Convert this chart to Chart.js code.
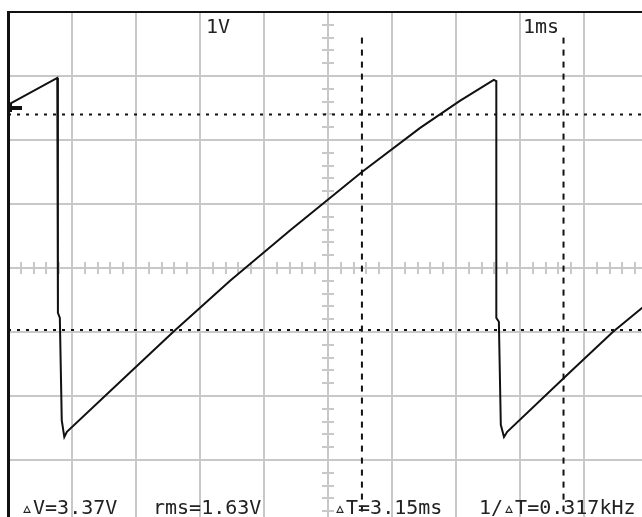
<!DOCTYPE html>
<html>
<head>
<meta charset="utf-8">
<title>Sawtooth scope capture</title>
<script src="https://cdn.jsdelivr.net/npm/chart.js@4/dist/chart.umd.min.js"></script>
<style>
  html, body { margin: 0; padding: 0; background: #fff; overflow: hidden; }
  #wrap { width: 660px; height: 540px; }
</style>
</head>
<body>
<div id="wrap"><canvas id="scope" width="660" height="540"></canvas></div>
<script>
// trace: time in ms (1 ms/div), volts (1 V/div)
const traceTime  = [0.02, 0.77, 0.78, 0.81, 0.84, 0.88, 0.92, 1.91, 2.58, 3.47, 4.41, 5.53, 6.44, 7.06, 7.59, 7.63, 7.63, 7.67, 7.70, 7.75, 7.80, 8.78, 9.45, 9.91];
const traceVolts = [2.56, 2.97, -0.70, -0.78, -2.38, -2.64, -2.56, -1.63, -1.00, -0.20, 0.59, 1.50, 2.19, 2.61, 2.94, 2.92, -0.78, -0.84, -2.45, -2.64, -2.56, -1.63, -1.00, -0.62];

const cursorVolts = [2.40, -0.97];
const cursorTimes = [5.53, 8.68];
const cursorTop = 3.6;
const triggerLevel = 2.5;

const scaleLabels = ['1V', '1ms'];
const readouts = ['\u25B5V=3.37V', 'rms=1.63V', '\u25B5T=3.15ms', '1/\u25B5T=0.317kHz'];

const timeRange = [0, 10];
const voltRange = [-4, 4];
const gridGray = '#c8c8c8';
const ink = '#111';

const trace = traceTime.map((t, i) => ({ x: t, y: traceVolts[i] }));

const datasets = [{
    data: trace,
    borderColor: ink,
    borderWidth: 2,
    pointRadius: 0,
    tension: 0
}];
cursorVolts.forEach(v => {
    datasets.push({
        data: [{ x: timeRange[0], y: v }, { x: timeRange[1], y: v }],
        borderColor: ink,
        borderWidth: 2,
        borderDash: [3, 6],
        pointRadius: 0
    });
});
cursorTimes.forEach(t => {
    datasets.push({
        data: [{ x: t, y: cursorTop }, { x: t, y: voltRange[0] }],
        borderColor: ink,
        borderWidth: 2,
        borderDash: [6, 6],
        pointRadius: 0
    });
});

// small tick marks along the two centre axes, 5 per division
const centreTicks = {
    id: 'centreTicks',
    beforeDatasetsDraw(chart) {
        const { ctx, scales: { x, y } } = chart;
        const cx = x.getPixelForValue((timeRange[0] + timeRange[1]) / 2);
        const cy = y.getPixelForValue(0);
        ctx.save();
        ctx.strokeStyle = gridGray;
        ctx.lineWidth = 2;
        ctx.beginPath();
        for (let k = 1; k < (voltRange[1] - voltRange[0]) * 5; k++) {
            const py = Math.round(y.getPixelForValue(voltRange[0] + k * 0.2));
            ctx.moveTo(cx - 6, py);
            ctx.lineTo(cx + 6, py);
        }
        for (let k = 1; k < (timeRange[1] - timeRange[0]) * 5; k++) {
            const px = Math.round(x.getPixelForValue(timeRange[0] + k * 0.2));
            ctx.moveTo(px, cy - 6);
            ctx.lineTo(px, cy + 6);
        }
        ctx.stroke();
        ctx.restore();
    }
};

const screenText = {
    id: 'screenText',
    afterDraw(chart) {
        const { ctx, chartArea: a, scales: { y } } = chart;
        ctx.save();
        // trigger marker at the left edge
        const ty = Math.round(y.getPixelForValue(triggerLevel));
        ctx.fillStyle = ink;
        ctx.fillRect(a.left, ty - 2, 14, 4);
        ctx.fillRect(a.left, ty - 5, 4, 9);

        ctx.font = '20px "DejaVu Sans Mono", monospace';
        ctx.fillStyle = '#222';
        ctx.textBaseline = 'alphabetic';
        ctx.fillText(scaleLabels[0], a.left + 198, a.top + 21);
        ctx.fillText(scaleLabels[1], a.left + 515, a.top + 21);
        const xs = [13, 145, 326, 471];
        readouts.forEach((s, i) => ctx.fillText(s, a.left + xs[i], a.top + 502));
        ctx.restore();
    }
};

new Chart(document.getElementById('scope'), {
    type: 'line',
    data: { datasets },
    options: {
        responsive: false,
        animation: false,
        devicePixelRatio: 1,
        layout: { autoPadding: false, padding: { left: 8, top: 12, right: 12, bottom: 16 } },
        plugins: { legend: { display: false }, tooltip: { enabled: false } },
        scales: {
            x: {
                type: 'linear',
                position: 'top',
                min: timeRange[0],
                max: timeRange[1],
                ticks: { display: false, stepSize: 1 },
                grid: {
                    drawTicks: false,
                    lineWidth: 2,
                    color: c => c.tick && c.tick.value === timeRange[0] ? ink : gridGray
                },
                border: { display: true, color: ink, width: 2 }
            },
            y: {
                type: 'linear',
                position: 'left',
                min: voltRange[0],
                max: voltRange[1],
                ticks: { display: false, stepSize: 1 },
                grid: {
                    drawTicks: false,
                    lineWidth: 2,
                    color: c => c.tick && c.tick.value === voltRange[1] ? ink : gridGray
                },
                border: { display: true, color: ink, width: 3 }
            }
        }
    },
    plugins: [centreTicks, screenText]
});
</script>
</body>
</html>
